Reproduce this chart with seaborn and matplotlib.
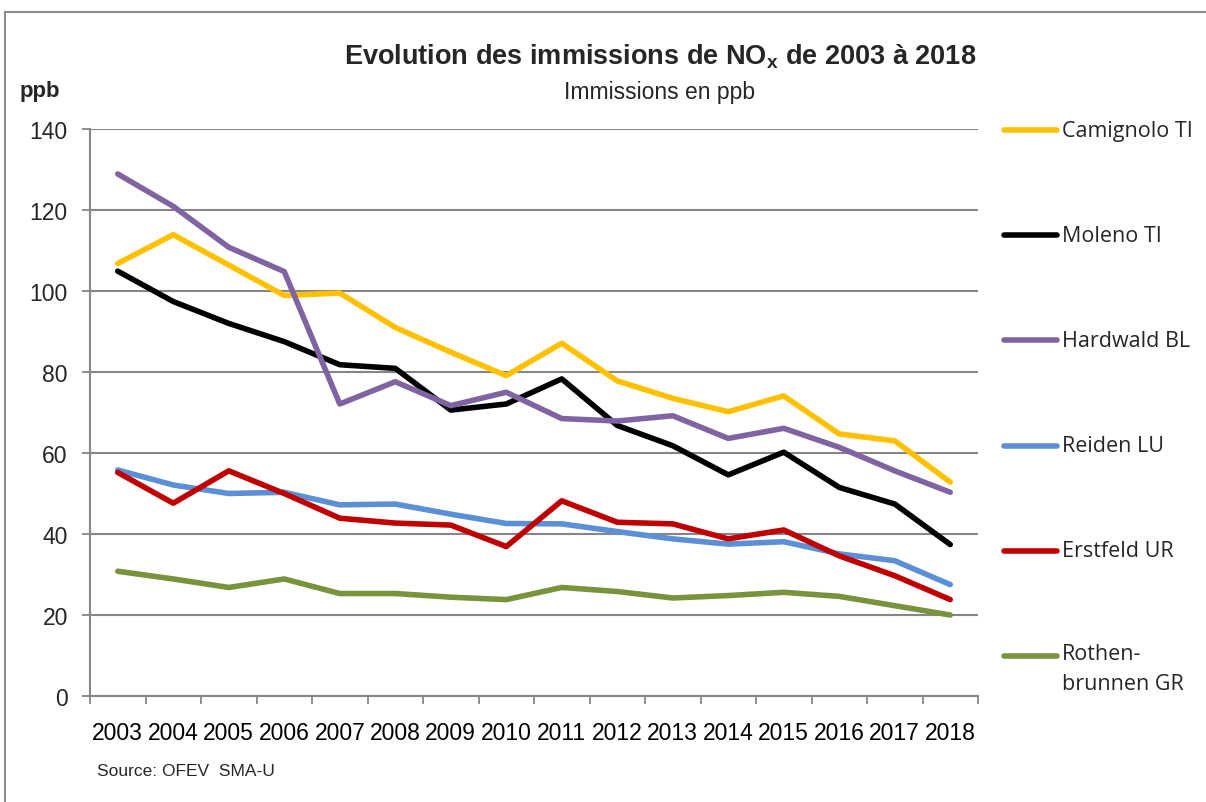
import numpy as np
import pandas as pd
import matplotlib.pyplot as plt
import seaborn as sns
from matplotlib.lines import Line2D
from matplotlib.patches import Rectangle

# Data (ppb)
years = list(range(2003, 2019))
stations = ["Camignolo TI", "Moleno TI", "Hardwald BL", "Reiden LU", "Erstfeld UR", "Rothen-\nbrunnen GR"]
camignolo = [106.8, 113.9, 106.4, 98.9, 99.5, 91.0, 84.9, 79.1, 87.1, 77.8, 73.5, 70.2, 74.1, 64.7, 63.0, 52.8]
moleno = [104.9, 97.4, 92.0, 87.5, 81.8, 80.9, 70.6, 72.1, 78.3, 66.8, 61.8, 54.6, 60.2, 51.5, 47.4, 37.4]
hardwald = [128.9, 120.9, 110.8, 104.8, 72.1, 77.6, 71.7, 75.0, 68.5, 67.9, 69.2, 63.6, 66.1, 61.4, 55.6, 50.3]
reiden = [55.8, 52.1, 50.0, 50.3, 47.2, 47.4, 44.9, 42.6, 42.5, 40.6, 38.8, 37.5, 38.1, 35.1, 33.4, 27.5]
erstfeld = [55.2, 47.6, 55.6, 50.0, 43.9, 42.7, 42.2, 36.9, 48.2, 42.9, 42.5, 38.8, 41.0, 34.6, 29.7, 23.8]
rothenbrunnen = [30.8, 28.9, 26.8, 28.9, 25.3, 25.3, 24.4, 23.8, 26.8, 25.8, 24.2, 24.8, 25.6, 24.6, 22.3, 20.0]
colors = ["#FFC000", "#000000", "#8064A2", "#5B8FD6", "#C00000", "#77933C"]

series = [camignolo, moleno, hardwald, reiden, erstfeld, rothenbrunnen]
rows = []
for name, values in zip(stations, series):
    for i, (yr, v) in enumerate(zip(years, values)):
        rows.append({"pos": i, "year": yr, "station": name, "ppb": v})
df = pd.DataFrame(rows)

sns.set_theme(style="white")
plt.rcParams['font.family'] = ['Liberation Sans', 'DejaVu Sans']
grid_gray = "#868686"

W, H = 1206, 803
fig = plt.figure(figsize=(W / 100, H / 100), dpi=100)
ax = fig.add_axes([90 / W, 1 - 697 / H, (978 - 90) / W, (697 - 130) / H])

sns.lineplot(data=df, x="pos", y="ppb", hue="station", hue_order=stations,
             palette=dict(zip(stations, colors)), linewidth=4, legend=False, ax=ax)

ax.set_ylim(0, 140)
ax.set_yticks(range(0, 141, 20))
ax.set_xlim(-0.5, len(years) - 0.5)
# ticks sit between categories, labels centred on categories
ax.set_xticks(np.arange(-0.5, len(years), 1.0))
ax.set_xticklabels([])
ax.set_xticks(range(len(years)), minor=True)
ax.set_xticklabels([str(y) for y in years], minor=True)
ax.tick_params(axis="x", which="major", direction="out", length=6, width=1.3, color=grid_gray, bottom=True)
ax.tick_params(axis="x", which="minor", length=0, labelsize=16.5, pad=18, colors="black")
ax.tick_params(axis="y", direction="out", length=6, width=1.3, color=grid_gray, left=True, labelsize=16.5, pad=10)
ax.set_xlabel("")
ax.set_ylabel("")

ax.grid(axis="y", color=grid_gray, linewidth=1.5)
ax.set_axisbelow(True)
for side in ["top", "right"]:
    ax.spines[side].set_visible(False)
for side in ["left", "bottom"]:
    ax.spines[side].set_color(grid_gray)
    ax.spines[side].set_linewidth(1.5)

# Titles and annotations
fig.text(660 / W, 1 - 57 / H, "Evolution des immissions de NO$_\\mathregular{x}$ de 2003 à 2018",
         ha="center", va="center", fontsize=19.5, fontweight="bold")
fig.text(660 / W, 1 - 92 / H, "Immissions en ppb", ha="center", va="center", fontsize=16.5)
fig.text(20 / W, 1 - 92 / H, "ppb", ha="left", va="center", fontsize=16, fontweight="bold")
fig.text(97 / W, 1 - 772 / H, "Source: OFEV  SMA-U", ha="left", va="center", fontsize=12.5)

# Legend on the right: line beside the first text line of each entry
legend_font = {"family": ["Open Sans", "DejaVu Sans"], "size": 15.5}
for k, (name, c) in enumerate(zip(stations, colors)):
    y_px = 131 + 105.2 * k
    y = 1 - y_px / H
    fig.add_artist(Line2D([1004 / W, 1057 / W], [y, y], transform=fig.transFigure,
                          color=c, linewidth=4, solid_capstyle="round"))
    if "\n" in name:
        fig.text(1062 / W, 1 - (y_px - 13) / H, name, ha="left", va="top",
                 fontdict=legend_font, linespacing=1.55)
    else:
        fig.text(1062 / W, y, name, ha="left", va="center", fontdict=legend_font)

# outer chart border
fig.add_artist(Rectangle((5 / W, -0.05), 1.2, 1 - 13 / H + 0.05, transform=fig.transFigure,
                         fill=False, edgecolor="#8C8C8C", linewidth=1.5))

fig.savefig("out.png", dpi=100)
